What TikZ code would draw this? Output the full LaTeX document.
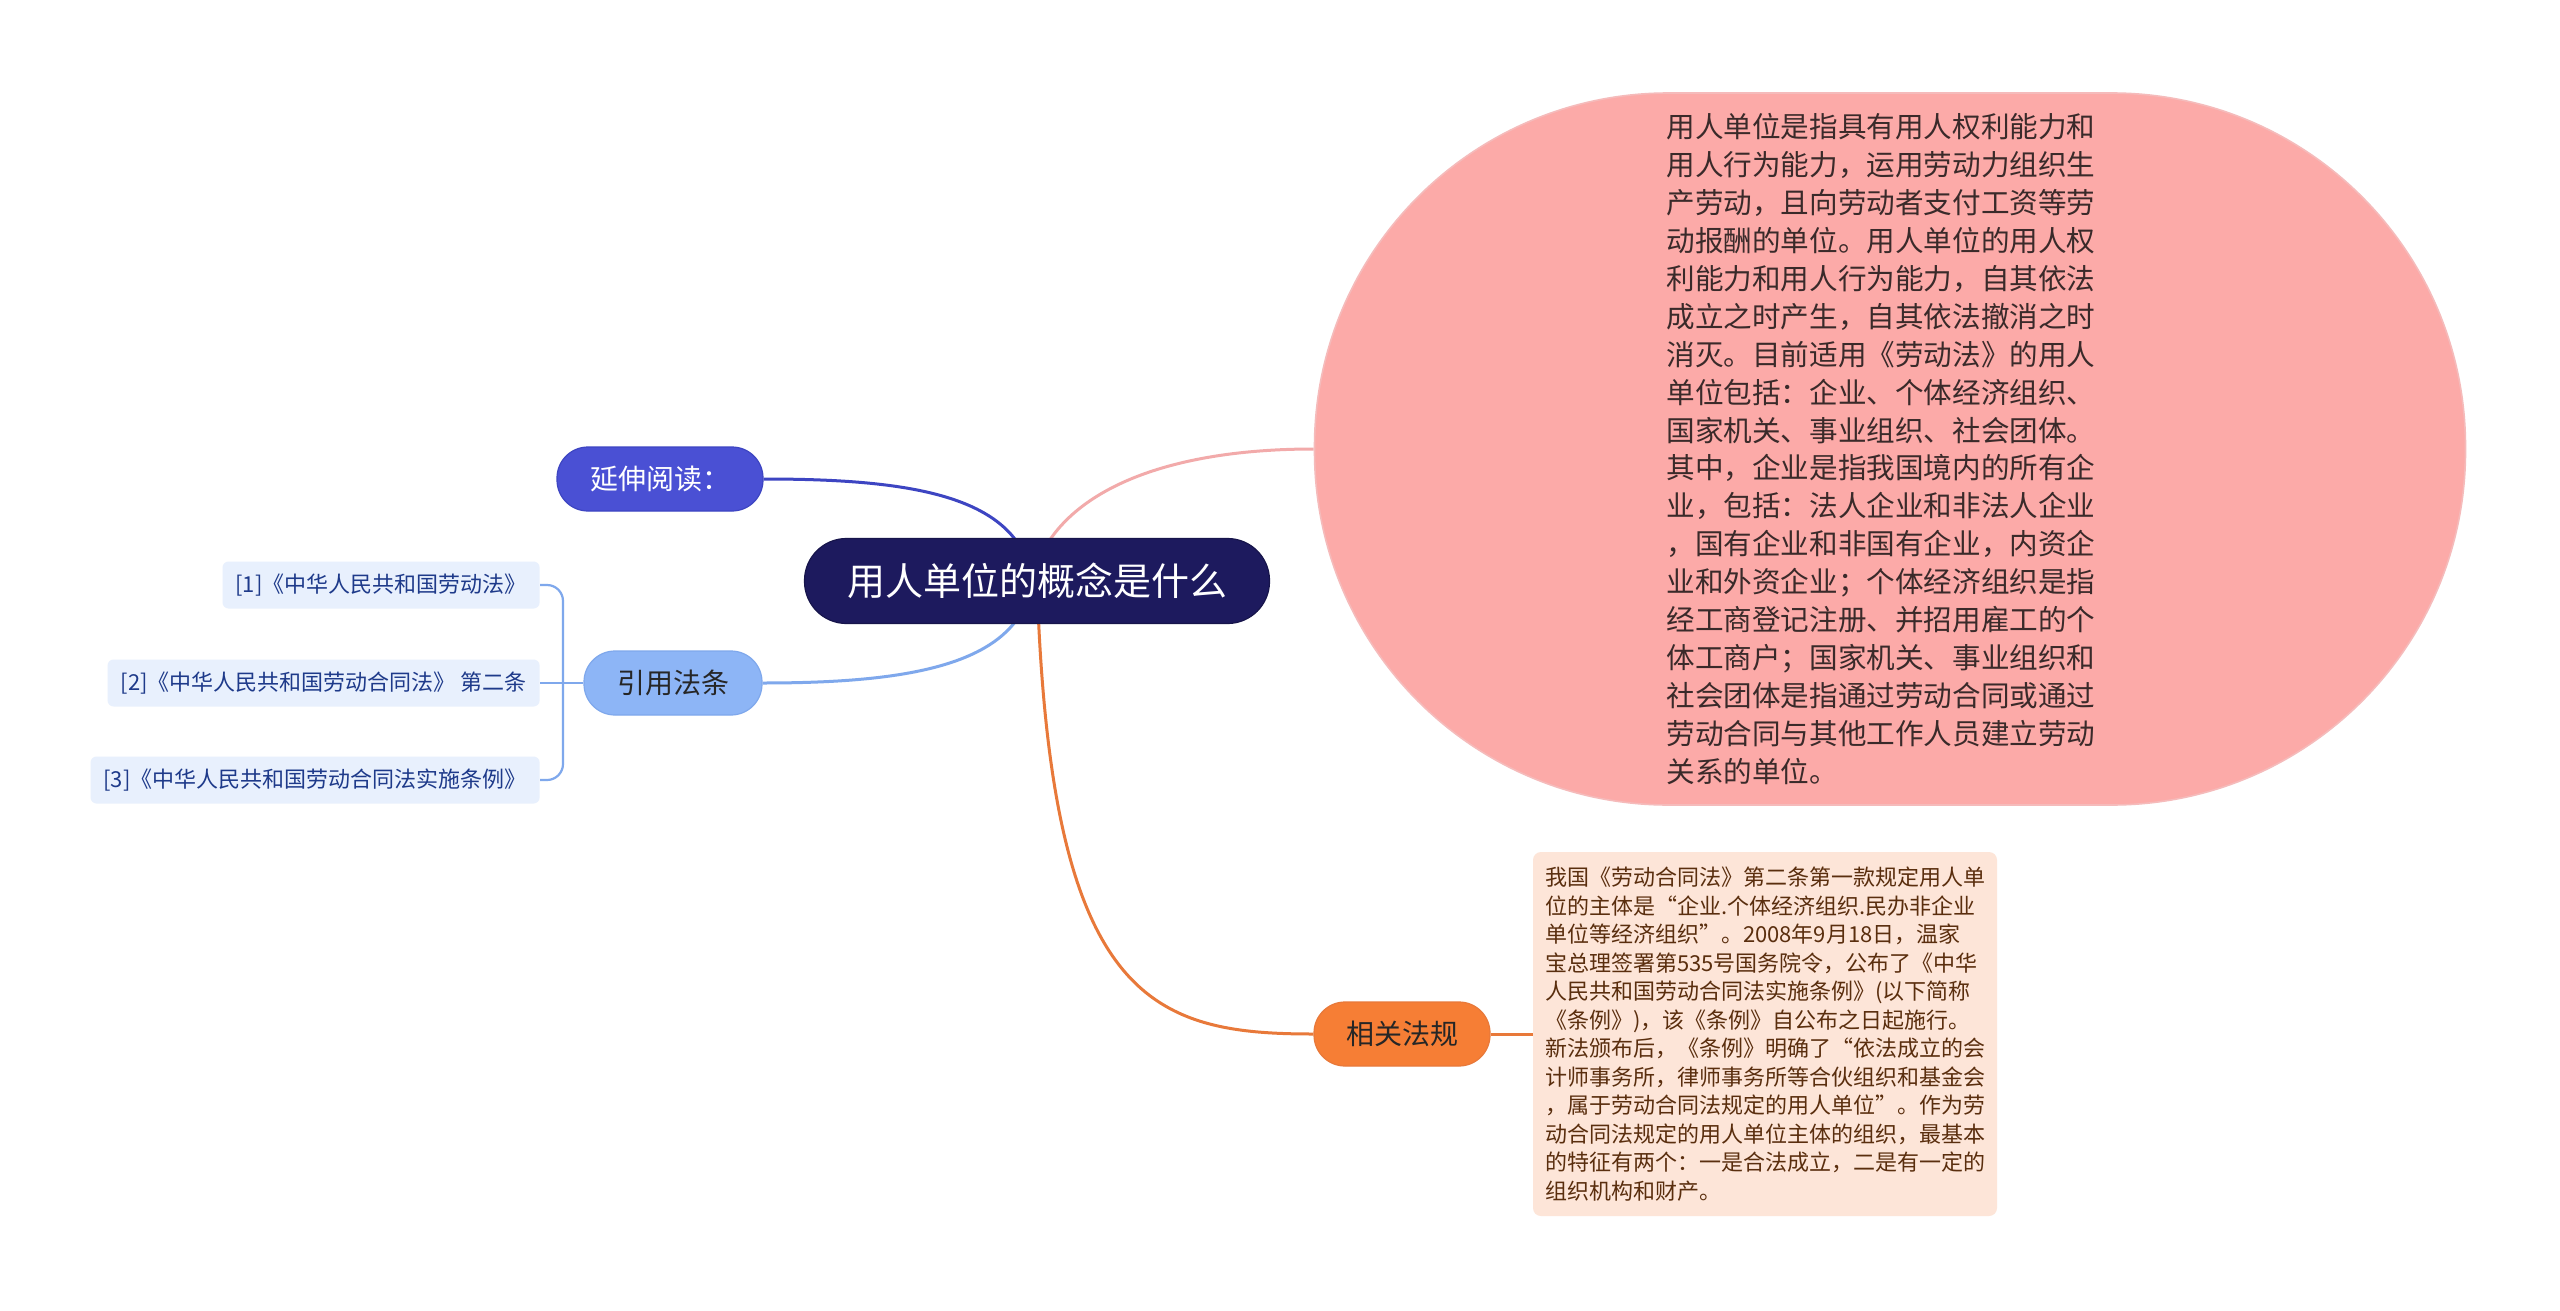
\documentclass[tikz,border=0pt]{standalone}
\usepackage{fontspec}
\setmainfont{Noto Sans CJK SC}
\usetikzlibrary{calc}
\pgfdeclarelayer{background}
\pgfsetlayers{background,main}
\definecolor{rootfill}{HTML}{1D1A5E}
\definecolor{ysfill}{HTML}{4A50D4}
\definecolor{ysline}{HTML}{3D45C2}
\definecolor{yyfill}{HTML}{8DB5F6}
\definecolor{yyline}{HTML}{7FA8EC}
\definecolor{reffill}{HTML}{E8F0FD}
\definecolor{reftext}{HTML}{1E3A8A}
\definecolor{xgfill}{HTML}{F67E35}
\definecolor{xgline}{HTML}{E8793A}
\definecolor{notefill}{HTML}{FDE5D8}
\definecolor{notetext}{HTML}{5A2E0E}
\definecolor{pinkfill}{HTML}{FCAAA8}
\definecolor{pinkline}{HTML}{F2AAAA}
\definecolor{pinktext}{HTML}{3A2A2A}
\begin{document}
\begin{tikzpicture}[x=0.5pt,y=-0.5pt,
  pill/.style={draw, line width=0.6pt, minimum height=32pt, rounded corners=15.5pt, inner sep=0pt, font=\fontsize{14pt}{16pt}\selectfont},
  refbox/.style={fill=reffill, draw=none, rounded corners=3pt, anchor=east, inner xsep=6.5pt, minimum height=23.5pt, text=reftext, font=\fontsize{11pt}{13pt}\selectfont},
  conn/.style={line width=1.5pt},
  refline/.style={draw=yyline, line width=1.1pt}]
\useasboundingbox (0,0) rectangle (2560,1311);

% root
\node[fill=rootfill, draw=rootfill!80!black, line width=0.6pt, minimum width=232.5pt, minimum height=42.5pt, rounded corners=21pt, text=white, font=\fontsize{19pt}{22pt}\selectfont, inner sep=0pt] (root) at (1037,581) {用人单位的概念是什么};

% big pink
\node[fill=pinkfill, draw=pinkline!80!white, line width=0.8pt, minimum width=575.5pt, minimum height=356pt, rounded corners=177pt, inner sep=0pt] (def) at (1890,449) {};
\node[text=pinktext, align=left, font=\fontsize{14.3pt}{18.95pt}\selectfont, inner sep=0pt] (deftext) at (1881,449) {用人单位是指具有用人权利能力和\\
用人行为能力，运用劳动力组织生\\
产劳动，且向劳动者支付工资等劳\\
动报酬的单位。用人单位的用人权\\
利能力和用人行为能力，自其依法\\
成立之时产生，自其依法撤消之时\\
消灭。目前适用《劳动法》的用人\\
单位包括：企业、个体经济组织、\\
国家机关、事业组织、社会团体。\\
其中，企业是指我国境内的所有企\\
业，包括：法人企业和非法人企业\\
，国有企业和非国有企业，内资企\\
业和外资企业；个体经济组织是指\\
经工商登记注册、并招用雇工的个\\
体工商户；国家机关、事业组织和\\
社会团体是指通过劳动合同或通过\\
劳动合同与其他工作人员建立劳动\\
关系的单位。};

% left branches
\node[pill, fill=ysfill, draw=ysline, minimum width=103pt, text=white] (ys) at (660,479) {延伸阅读：};
\node[pill, fill=yyfill, draw=yyline, minimum width=89pt, text=black!85] (yy) at (673,683) {引用法条};
\node[refbox] (b1) at (540,585) {[1]《中华人民共和国劳动法》};
\node[refbox] (b2) at (540,683) {[2]《中华人民共和国劳动合同法》 第二条};
\node[refbox] (b3) at (540,780) {[3]《中华人民共和国劳动合同法实施条例》};

% lower right
\node[pill, fill=xgfill, draw=xgline, minimum width=88pt, text=black!85] (xg) at (1402,1034) {相关法规};
\node[fill=notefill, rounded corners=4pt, minimum width=232pt, minimum height=182pt, text=notetext, align=left, font=\fontsize{11pt}{14.25pt}\selectfont, inner sep=0pt] (note) at (1765,1034) {我国《劳动合同法》第二条第一款规定用人单\\
位的主体是“企业.个体经济组织.民办非企业\\
单位等经济组织”。2008年9月18日，温家\\
宝总理签署第535号国务院令，公布了《中华\\
人民共和国劳动合同法实施条例》(以下简称\\
《条例》)，该《条例》自公布之日起施行。\\
新法颁布后，《条例》明确了“依法成立的会\\
计师事务所，律师事务所等合伙组织和基金会\\
，属于劳动合同法规定的用人单位”。作为劳\\
动合同法规定的用人单位主体的组织，最基本\\
的特征有两个：一是合法成立，二是有一定的\\
组织机构和财产。};

\coordinate (jn) at (563,683);

\begin{pgfonlayer}{background}
\fill[white] (0,0) rectangle (2560,1311);
\draw[conn, draw=pinkline] ($(root.center)+(-5,0)$) .. controls (1050,500) and (1150,449) .. (def.west);
\draw[conn, draw=ysline] (ys.east) .. controls (910,479) and (1020,495) .. ($(root.center)+(-5,0)$);
\draw[conn, draw=yyline] (yy.east) .. controls (910,683) and (1020,665) .. ($(root.center)+(-5,0)$);
\draw[conn, draw=xgline] (root.center) .. controls (1050,1000) and (1150,1034) .. (xg.west);
\draw[conn, draw=xgline] (xg.east) -- (note.west);
\draw[refline] (yy.west) -- (b2.east);
\draw[refline, rounded corners=8pt] (jn) |- (b1.east);
\draw[refline, rounded corners=8pt] (jn) |- (b3.east);
\end{pgfonlayer}
\end{tikzpicture}
\end{document}
